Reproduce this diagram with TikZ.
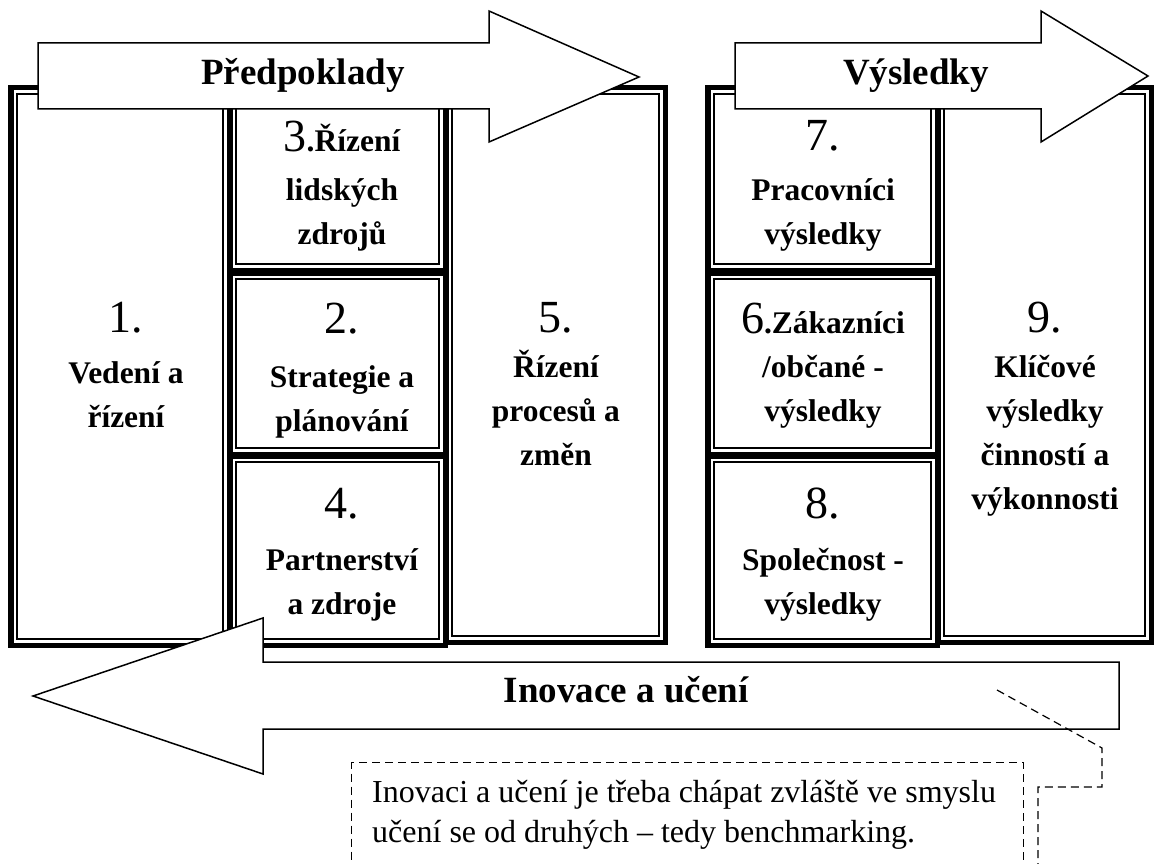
\documentclass[tikz,border=0pt]{standalone}
\usepackage{fontspec}
\setmainfont{Liberation Serif}
\newcommand{\bignum}[1]{{\fontsize{46}{46}\mdseries\selectfont #1}}
\begin{document}
\begin{tikzpicture}[x=1pt,y=-1pt]
    \tikzset{
        frame/.style={rectangle,draw=black,fill=white,line width=5.5pt,inner sep=0pt,outer sep=0pt},
        inner/.style={draw=black,line width=1.1pt},
        lbl/.style={align=center,anchor=base,inner sep=0pt,font=\fontsize{31.5}{44}\selectfont\bfseries},
        title/.style={anchor=base,inner sep=0pt,font=\fontsize{37}{44}\selectfont\bfseries},
        blockarrow/.style={draw=black,fill=white,line width=1.5pt,line join=miter},
        dashline/.style={draw=black,line width=1.2pt,dash pattern=on 8pt off 5pt}
    }
    \useasboundingbox (0,0) rectangle (1154,864);
    \clip (0,0) rectangle (1154,864);

    % predpoklady
    \node[frame,minimum width=218.5pt,minimum height=557.5pt] (b1) at (120,366.5) {};
    \node[frame,minimum width=215.5pt,minimum height=182.5pt] (b3) at (337.5,179) {};
    \node[frame,minimum width=215.5pt,minimum height=181.5pt] (b2) at (337.5,363.5) {};
    \node[frame,minimum width=215.5pt,minimum height=189.5pt] (b4) at (337.5,550.5) {};
    \node[frame,minimum width=219.5pt,minimum height=554.5pt] (b5) at (555.5,365) {};

    % vysledky
    \node[frame,minimum width=229.5pt,minimum height=182.5pt] (b7) at (822.5,179) {};
    \node[frame,minimum width=229.5pt,minimum height=181.5pt] (b6) at (822.5,363.5) {};
    \node[frame,minimum width=229.5pt,minimum height=189.5pt] (b8) at (822.5,550.5) {};
    \node[frame,minimum width=213.5pt,minimum height=554.5pt] (b9) at (1044.5,365) {};

    \foreach \b in {1,...,9}{
            \draw[inner] ([shift={(6.25,6.25)}]b\b.north west) rectangle ([shift={(-6.25,-6.25)}]b\b.south east);
        }

    % base = last line
    \node[lbl] (t1) at (126,427) {\bignum{1.}\\[7pt]Vedení a\\řízení};
    \node[lbl] (t3) at (342,244) {\bignum{3}.Řízení\\[5pt]lidských\\zdrojů};
    \node[lbl] (t2) at (342,431) {\bignum{2.}\\[10pt]Strategie a\\plánování};
    \node[lbl] (t4) at (342,614) {\bignum{4.}\\[8pt]Partnerství\\a zdroje};
    \node[lbl] (t5) at (556,465) {\bignum{5.}\\[1pt]Řízení\\procesů a\\změn};
    \node[lbl] (t7) at (823,244) {\bignum{7.}\\[6pt]Pracovníci\\výsledky};
    \node[lbl] (t6) at (823,421) {\bignum{6}.Zákazníci\\/občané -\\výsledky};
    \node[lbl] (t8) at (823,614) {\bignum{8.}\\[8pt]Společnost -\\výsledky};
    \node[lbl] (t9) at (1045,509) {\bignum{9.}\\[1pt]Klíčové\\výsledky\\činností a\\výkonnosti};

    % sipky
    \draw[blockarrow] (38,43) -- (489,43) -- (489,11) -- (639,77) -- (489,142) -- (489,109) -- (38,109) -- cycle;
    \node[title] (pre) at (303,85) {Předpoklady};
    \draw[blockarrow] (735,43) -- (1041,43) -- (1041,11) -- (1148,76) -- (1041,142) -- (1041,109) -- (735,109) -- cycle;
    \node[title] (res) at (916,85) {Výsledky};
    \draw[blockarrow] (1119,662) -- (263,662) -- (263,618) -- (33,696) -- (263,774) -- (263,729) -- (1119,729) -- cycle;
    \node[title] (inov) at (626,702) {Inovace a učení};

    % poznamka
    \node[dashline,rectangle,minimum width=672pt,minimum height=140pt,anchor=north west,inner sep=0pt] (callout) at (351,762) {};
    \node[anchor=base west,align=left,inner sep=0pt,font=\fontsize{32}{40}\selectfont] (note) at (372,842) {Inovaci a učení je třeba chápat zvláště ve smyslu\\učení se od druhých – tedy benchmarking.};
    \coordinate (hint) at (997,690);
    \coordinate (lead) at (1038,900);
    \draw[dashline] (hint) -- ++(105,58) -- ++(0,39) -| (lead);
\end{tikzpicture}
\end{document}
